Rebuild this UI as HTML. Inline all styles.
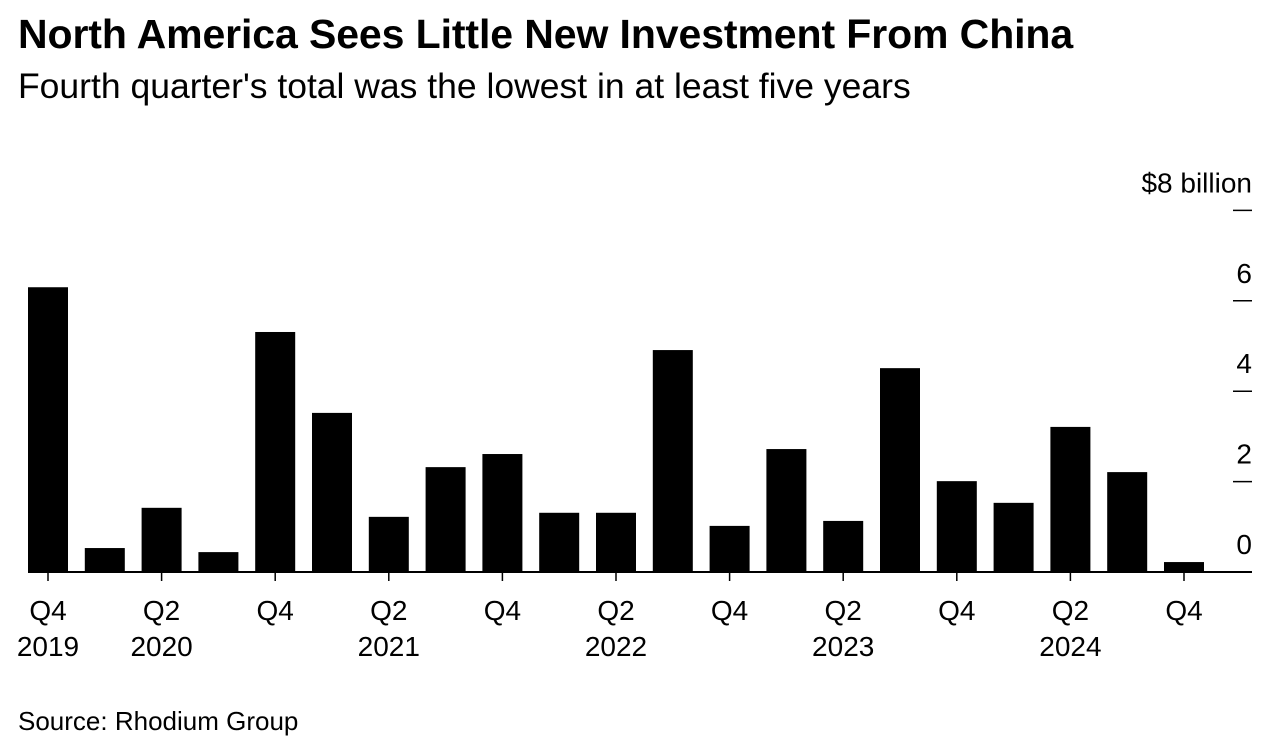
<!DOCTYPE html>
<html><head><meta charset="utf-8"><style>
body{margin:0;background:#fff;font-family:"Liberation Sans",sans-serif;}
#wrap{position:relative;width:1274px;height:756px;overflow:hidden;}
.t{position:absolute;white-space:nowrap;color:#000;}
</style></head><body>
<div id="wrap">
<div class="t" style="left:18px;top:11px;font-size:41px;font-weight:bold;letter-spacing:-0.1px">North America Sees Little New Investment From China</div>
<div class="t" style="left:18px;top:66px;font-size:35.5px">Fourth quarter's total was the lowest in at least five years</div>
<svg id="chart" width="1274" height="756" style="position:absolute;left:0;top:0"></svg>
<div class="t" style="left:18px;top:706px;font-size:26px">Source: Rhodium Group</div>
</div>
<script>
const categories=["Q4 2019","Q1 2020","Q2 2020","Q3 2020","Q4 2020","Q1 2021","Q2 2021","Q3 2021","Q4 2021","Q1 2022","Q2 2022","Q3 2022","Q4 2022","Q1 2023","Q2 2023","Q3 2023","Q4 2023","Q1 2024","Q2 2024","Q3 2024","Q4 2024"];
const values=[6.3,0.53,1.42,0.44,5.31,3.52,1.22,2.32,2.61,1.31,1.31,4.91,1.02,2.72,1.13,4.51,2.01,1.53,3.21,2.21,0.22];
const yTicks=[0,2,4,6,8];
const yTickLabels=["0","2","4","6","$8 billion"];
const xTickLabels=["Q4","","Q2","","Q4","","Q2","","Q4","","Q2","","Q4","","Q2","","Q4","","Q2","","Q4"];
const yearLabels=["2019","","2020","","","","2021","","","","2022","","","","2023","","","","2024","",""];
const NS="http://www.w3.org/2000/svg";
const svg=document.getElementById('chart');
const y0=572,pxPerUnit=45.2,x0=48,step=56.8,bw=40;
const y=v=>y0-v*pxPerUnit;
const x=i=>x0+i*step;
function mk(t,a){const e=document.createElementNS(NS,t);for(const k in a)e.setAttribute(k,a[k]);svg.appendChild(e);return e;}
yTicks.forEach((v,i)=>{
  const l=mk('line',{x1:1233,x2:1252,y1:y(v),y2:y(v),stroke:'#000','stroke-width':1.5});
  
  
  const t=mk('text',{x:1252,y:y(v)-18,'text-anchor':'end','font-size':28,'font-family':'Liberation Sans, sans-serif'});
  t.textContent=yTickLabels[i];
  
  
});
values.forEach((v,i)=>{
  const r=mk('rect',{x:x(i)-bw/2,y:y(v),width:bw,height:y0-y(v),fill:'#000'});
  
  
  if(xTickLabels[i]){
    const tk=mk('line',{x1:x(i),x2:x(i),y1:y0,y2:y0+9,stroke:'#000','stroke-width':1.5});
    
    
    const t=mk('text',{x:x(i),y:620,'text-anchor':'middle','font-size':28,'font-family':'Liberation Sans, sans-serif'});
    t.textContent=xTickLabels[i];
    
    
  }
  if(yearLabels[i]){
    const t=mk('text',{x:x(i),y:656,'text-anchor':'middle','font-size':28,'font-family':'Liberation Sans, sans-serif'});
    t.textContent=yearLabels[i];
    
    
  }
});
const ax=mk('line',{x1:28,x2:1252,y1:y0,y2:y0,stroke:'#000','stroke-width':2});


</script>
</body></html>
